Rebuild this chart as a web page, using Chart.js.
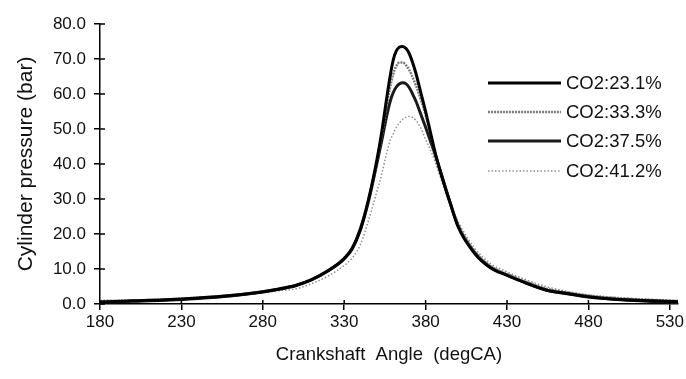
<!DOCTYPE html>
<html>
<head>
<meta charset="utf-8">
<script src="https://cdn.jsdelivr.net/npm/chart.js@4/dist/chart.umd.min.js"></script>
<style>
html,body{margin:0;padding:0;background:#fff;}
#wrap{width:686px;height:379px;position:relative;}
</style>
</head>
<body>
<div id="wrap"><canvas id="c" width="686" height="379"></canvas></div>
<script>
const angles = [180,200,220,240,260,280,290,300,310,320,330,335,340,345,350,353,356,358,360,362,364,366,368,370,372,374,377,380,383,386,390,395,400,410,420,430,440,454,467,480,500,520,537];
const co2_231 = [0.6,0.9,1.2,1.7,2.4,3.5,4.3,5.3,7.0,9.5,13.0,16.0,21.5,30.0,41.0,49.0,58.5,64.5,69.5,72.3,73.4,73.6,73.0,71.5,69.0,66.0,60.5,55.0,49.0,43.0,36.5,29.0,22.0,14.5,10.3,8.2,6.3,4.0,3.0,2.1,1.3,0.9,0.6];
const co2_333 = [0.8,1.0,1.3,1.8,2.5,3.6,4.4,5.4,7.1,9.6,13.2,16.2,21.8,30.0,40.5,48.0,56.5,61.5,65.5,68.0,69.0,69.0,68.2,66.8,64.8,62.5,58.5,54.0,48.5,43.0,36.8,29.3,22.5,15.0,10.8,8.6,6.7,4.4,3.3,2.4,1.6,1.1,0.8];
const co2_375 = [0.5,0.8,1.1,1.6,2.3,3.4,4.2,5.2,6.9,9.4,12.9,15.8,21.2,29.5,40.0,46.5,53.5,57.5,60.3,62.0,62.9,63.2,62.9,61.8,60.0,58.0,54.3,50.5,46.5,42.5,36.3,29.0,22.3,14.8,10.5,8.3,6.3,4.0,2.9,2.0,1.2,0.7,0.4];
const co2_412 = [1.1,1.1,1.2,1.6,2.3,3.2,3.8,4.3,5.8,8.0,11.0,13.2,17.0,24.0,32.0,37.0,43.0,46.5,48.5,50.5,51.8,52.8,53.4,53.6,53.3,52.5,50.3,47.0,44.0,40.5,35.0,28.8,23.5,16.0,11.5,9.2,7.2,5.0,3.6,2.6,1.8,1.3,1.0];
const seriesLabels = ['CO2:23.1%','CO2:33.3%','CO2:37.5%','CO2:41.2%'];
const xTicks = [180,230,280,330,380,430,480,530];
const yTicks = [0,10,20,30,40,50,60,70,80];

const FONT = '"Liberation Sans", Arial, sans-serif';
const pts = arr => arr.map((v,i)=>({x:angles[i], y:v}));
const styles = [
  {borderColor:'#000', borderWidth:3, borderDash:[]},
  {borderColor:'#7d7d7d', borderWidth:2.5, borderDash:[2,1]},
  {borderColor:'#1a1a1a', borderWidth:3, borderDash:[]},
  {borderColor:'#8f8f8f', borderWidth:1.5, borderDash:[1.5,2]}
];
const seriesData = [co2_231, co2_333, co2_375, co2_412];
const datasets = seriesData.map((d,i)=>Object.assign({
  label: seriesLabels[i], data: pts(d), pointRadius:0, fill:false, cubicInterpolationMode:'monotone'
}, styles[i]));

const crossTicks = {
  id:'crossTicks',
  afterDraw(chart){
    const ctx = chart.ctx, xs = chart.scales.x, ys = chart.scales.y;
    ctx.save();
    ctx.strokeStyle = '#000'; ctx.lineWidth = 1.5;
    ys.ticks.forEach(t=>{
      const py = ys.getPixelForValue(t.value);
      ctx.beginPath(); ctx.moveTo(xs.left, py); ctx.lineTo(xs.left+5, py); ctx.stroke();
    });
    xs.ticks.forEach(t=>{
      const px = xs.getPixelForValue(t.value);
      ctx.beginPath(); ctx.moveTo(px, ys.bottom); ctx.lineTo(px, ys.bottom-4); ctx.stroke();
    });
    ctx.restore();
  }
};

const innerLegend = {
  id:'innerLegend',
  afterDraw(chart){
    const ctx = chart.ctx;
    const x0 = 488, x1 = 561, rows = [83,112,141,171];
    ctx.save();
    chart.data.datasets.forEach((ds,i)=>{
      ctx.strokeStyle = ds.borderColor; ctx.lineWidth = ds.borderWidth;
      ctx.setLineDash(ds.borderDash || []);
      ctx.beginPath(); ctx.moveTo(x0, rows[i]); ctx.lineTo(x1, rows[i]); ctx.stroke();
      ctx.setLineDash([]);
      ctx.fillStyle = '#111';
      ctx.font = '18.5px ' + FONT;
      ctx.textBaseline = 'middle'; ctx.textAlign = 'left';
      ctx.fillText(ds.label, x1+5, rows[i]+1);
    });
    ctx.restore();
  }
};

new Chart(document.getElementById('c'), {
  type:'line',
  data:{datasets},
  plugins:[crossTicks, innerLegend],
  options:{
    responsive:false, animation:false,
    layout:{padding:{left:14, top:24, right:0, bottom:9}},
    plugins:{legend:{display:false}, tooltip:{enabled:false}},
    scales:{
      x:{
        type:'linear', min:180, max:535,
        afterBuildTicks: s => { s.ticks = xTicks.map(v=>({value:v})); },
        afterFit: s => { s.height = 66; },
        ticks:{color:'#111', font:{family:FONT, size:17}, padding:2, maxRotation:0, autoSkip:false},
        grid:{drawOnChartArea:false, drawTicks:true, tickLength:6, color:'#000', lineWidth:1.5},
        border:{display:true, color:'#000', width:1.5},
        title:{display:true, text:'Crankshaft  Angle  (degCA)', color:'#111', font:{family:FONT, size:18.5}, padding:{top:6}}
      },
      y:{
        type:'linear', min:0, max:80,
        afterBuildTicks: s => { s.ticks = yTicks.map(v=>({value:v})); },
        afterFit: s => { s.width = 86; },
        ticks:{color:'#111', font:{family:FONT, size:17}, padding:8, callback: v => Number(v).toFixed(1)},
        grid:{drawOnChartArea:false, drawTicks:true, tickLength:6, color:'#000', lineWidth:1.5},
        border:{display:true, color:'#000', width:1.5},
        title:{display:true, text:'Cylinder pressure (bar)', color:'#111', font:{family:FONT, size:21}, padding:{top:0,bottom:0}}
      }
    }
  }
});
</script>
</body>
</html>
